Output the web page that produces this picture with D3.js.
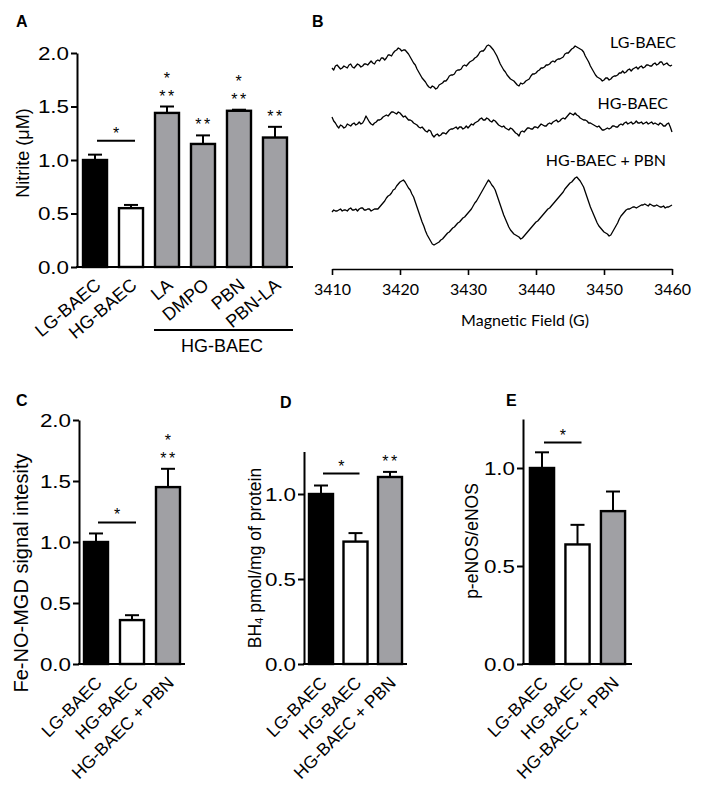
<!DOCTYPE html>
<html><head><meta charset="utf-8">
<script src="https://cdn.jsdelivr.net/npm/d3@7"></script>
<style>body{margin:0;background:#fff} svg{display:block}</style>
</head><body>
<svg id="fig" width="704" height="794"></svg>
<script>
// ---------------- DATA ----------------
// Panel A
const catsA = ["LG-BAEC", "HG-BAEC", "LA", "DMPO", "PBN", "PBN-LA"];
const valsA = [1.00, 0.55, 1.44, 1.15, 1.46, 1.21];
const errA  = [0.05, 0.03, 0.06, 0.08, 0.01, 0.10];
const sigA  = ["", "", "*|**", "**", "*|**", "**"];
const ticksA = [0, 0.5, 1.0, 1.5, 2.0];
// Panels C, D, E
const cats3 = ["LG-BAEC", "HG-BAEC", "HG-BAEC + PBN"];
const valsC = [1.00, 0.36, 1.45];
const errC  = [0.07, 0.04, 0.15];
const sigC  = ["", "", "*|**"];
const ticksC = [0, 0.5, 1.0, 1.5, 2.0];
const valsD = [1.00, 0.72, 1.10];
const errD  = [0.05, 0.05, 0.03];
const sigD  = ["", "", "**"];
const ticksD = [0, 0.5, 1.0];
const valsE = [1.00, 0.61, 0.78];
const errE  = [0.08, 0.10, 0.10];
const sigE  = ["", "", ""];
const ticksE = [0, 0.5, 1.0];
// Panel B: EPR spectra (arbitrary units, 0.25 G steps from 3410 to 3460 G)
const ticksB = [3410, 3420, 3430, 3440, 3450, 3460];
const traceNames = ["LG-BAEC", "HG-BAEC", "HG-BAEC + PBN"];
const lgB = [
  0,-2,2,3,1,-1,0,2,1,0,3,4,1,0,2,4,3,1,2,4,
  4,3,5,7,5,4,7,8,7,10,10,8,10,13,13,12,15,17,18,20,
  19,17,18,18,16,14,11,8,5,3,-1,-4,-7,-10,-12,-14,-17,-19,-20,-18,
  -19,-21,-20,-17,-16,-15,-13,-13,-11,-8,-7,-7,-6,-3,-2,-2,-1,2,3,2,
  4,6,7,8,10,11,13,16,17,17,19,22,23,22,20,18,15,12,8,4,
  1,-2,-4,-7,-9,-11,-12,-13,-15,-17,-18,-15,-16,-15,-13,-12,-11,-8,-6,-6,
  -5,-3,-2,0,0,1,3,3,4,6,7,6,8,9,9,10,11,14,15,15,
  17,19,20,22,21,20,19,18,16,12,9,6,2,-1,-4,-7,-9,-10,-11,-13,
  -12,-10,-10,-12,-11,-9,-8,-8,-7,-5,-5,-3,-5,-4,-2,-1,-3,-1,0,1,
  -1,1,2,0,1,3,3,2,2,4,5,3,4,6,6,3,4,5,3,2,
  3];
const hgB = [
  6,2,0,-3,-5,-2,-3,-5,-4,-1,-2,-3,-1,0,-2,-1,1,-1,0,3,
  7,4,1,-1,-2,0,1,3,3,4,6,7,8,7,9,11,11,10,9,11,
  10,8,6,7,5,3,3,2,0,-1,-2,-4,-5,-4,-6,-8,-9,-7,-8,-12,
  -14,-12,-11,-13,-12,-10,-10,-11,-9,-7,-6,-6,-5,-4,-6,-4,-4,-6,-5,-3,
  -5,-3,-1,-2,0,1,2,4,5,3,3,5,4,2,1,3,2,0,-2,-3,
  -4,-3,-5,-6,-7,-5,-6,-8,-10,-11,-13,-9,-8,-9,-7,-5,-5,-6,-6,-4,
  -4,-5,-3,-1,-2,-3,-3,-1,0,-1,1,2,3,1,2,4,5,4,6,8,
  10,9,8,10,8,7,5,4,3,3,2,0,0,-1,-2,-3,-4,-3,-5,-7,
  -7,-6,-5,-6,-5,-3,-3,-4,-4,-2,-1,-2,0,1,-1,0,1,-1,0,2,
  0,0,1,-1,0,1,-1,0,1,-1,0,-1,-2,0,-1,-3,-3,-1,0,-4,
  -9];
const pbnB = [
  -2,0,-1,-1,0,1,-1,0,0,-1,1,2,0,0,1,-1,1,2,2,0,
  0,1,1,-1,0,1,1,1,3,5,7,9,12,14,15,17,20,21,24,26,
  28,29,30,28,25,22,20,16,13,8,3,-2,-7,-12,-16,-21,-25,-28,-31,-34,
  -35,-34,-33,-32,-30,-29,-27,-25,-23,-22,-20,-18,-17,-15,-13,-12,-10,-8,-7,-5,
  -3,-1,1,4,7,9,12,15,18,21,24,27,30,28,25,23,20,15,10,5,
  0,-5,-9,-13,-17,-20,-22,-24,-25,-26,-27,-29,-28,-26,-24,-22,-20,-18,-16,-14,
  -12,-11,-9,-7,-5,-3,-1,1,2,4,6,8,10,12,14,16,18,21,23,25,
  27,28,30,32,33,31,29,26,23,18,13,8,3,-1,-5,-9,-13,-16,-18,-20,
  -22,-23,-24,-26,-25,-22,-19,-16,-13,-9,-6,-4,-2,0,1,1,2,3,3,2,
  3,4,5,5,6,5,4,6,5,4,4,5,4,3,3,4,2,3,3,4,
  5];

// ---------------- DRAWING ----------------
const svg = d3.select("#fig");
const AR = "'Liberation Sans', Arial, Helvetica, sans-serif";
const CAL = "Lato, 'Open Sans', sans-serif";
const GRAY = "#a0a0a4";
const SX = 1.28; // horizontal stretch of tick labels in the original

function panelLabel(t, x, y) {
  svg.append("text").attr("x", x).attr("y", y).text(t)
    .attr("font-family", AR).attr("font-weight", "bold").attr("font-size", 16);
}

function barPanel(o) {
  const g = svg.append("g");
  const x = d3.scaleBand().domain(o.cats).range([o.x0, o.x1]).paddingInner(o.pi).paddingOuter(o.po);
  const y = d3.scaleLinear().domain([0, o.ymax]).range([o.y0, o.ytop]);
  const bw = x.bandwidth();
  const cx = i => x(o.cats[i]) + bw / 2;

  // error bars (upper only)
  const eb = g.selectAll("g.eb").data(o.vals).join("g");
  eb.append("line").attr("x1", (d, i) => cx(i)).attr("x2", (d, i) => cx(i))
    .attr("y1", d => y(d)).attr("y2", (d, i) => y(d + o.errs[i]))
    .attr("stroke", "#000").attr("stroke-width", 2);
  eb.append("line").attr("x1", (d, i) => cx(i) - 7).attr("x2", (d, i) => cx(i) + 7)
    .attr("y1", (d, i) => y(d + o.errs[i])).attr("y2", (d, i) => y(d + o.errs[i]))
    .attr("stroke", "#000").attr("stroke-width", 2);

  // bars
  g.selectAll("rect.bar").data(o.vals).join("rect").attr("class", "bar")
    .attr("x", (d, i) => x(o.cats[i])).attr("width", bw)
    .attr("y", d => y(d)).attr("height", d => o.y0 - y(d))
    .attr("fill", (d, i) => i === 0 ? "#000" : i === 1 ? "#fff" : GRAY)
    .attr("stroke", "#000").attr("stroke-width", 2.4);

  // y axis
  const ax = g.append("g").attr("transform", `translate(${o.x0},0)`)
    .call(d3.axisLeft(y).tickValues(o.ticks).tickFormat(d3.format(".1f")).tickSize(6).tickSizeOuter(0));
  ax.select(".domain").attr("stroke-width", 2).attr("stroke", "#000");
  ax.selectAll(".tick line").attr("stroke-width", 2).attr("stroke", "#000");
  ax.selectAll(".tick text").attr("font-family", AR).attr("font-size", 17.5).attr("fill", "#000")
    .attr("transform", `scale(${SX},1)`).attr("x", -8 / SX).attr("dy", "0.36em");

  // x axis line
  g.append("line").attr("x1", o.x0 - 1).attr("x2", o.x1).attr("y1", o.y0).attr("y2", o.y0)
    .attr("stroke", "#000").attr("stroke-width", 2);

  // category labels (rotated)
  g.selectAll("text.cat").data(o.cats).join("text").attr("class", "cat")
    .attr("transform", (d, i) => `translate(${cx(i) + 7},${o.y0 + 20}) rotate(${o.rot})`)
    .attr("text-anchor", "end").attr("font-family", AR).attr("font-size", o.csize).text(d => d);

  // significance over bars
  o.sig.forEach((s, i) => {
    if (!s) return;
    const lines = s.split("|");
    const top = y(o.vals[i] + o.errs[i]);
    const n = lines.length;
    lines.forEach((l, k) => {
      g.append("text").attr("text-anchor", "middle").attr("font-family", AR)
        .attr("font-size", 16).attr("letter-spacing", 2.5)
        .attr("x", cx(i) + 1).attr("y", top - 14 - (n - 1 - k) * 18 + 9).text(l);
    });
  });

  // bracket LG vs HG
  const by = y(o.bracket);
  g.append("line").attr("x1", cx(0) + 2).attr("x2", cx(1) + 4).attr("y1", by).attr("y2", by)
    .attr("stroke", "#000").attr("stroke-width", 2);
  g.append("text").attr("x", (cx(0) + cx(1)) / 2 + 3).attr("y", by - 11 + 9)
    .attr("text-anchor", "middle").attr("font-family", AR).attr("font-size", 16).text("*");

  // y title
  const yt = g.append("text").attr("transform", `translate(${o.tx},${o.ty}) rotate(-90)`)
    .attr("text-anchor", "middle").attr("dominant-baseline", "middle")
    .attr("font-family", AR).attr("font-size", o.tsize);
  if (o.titleParts) {
    o.titleParts.forEach(p => {
      const ts = yt.append("tspan").text(p.t);
      if (p.sub) ts.attr("font-size", o.tsize * 0.65).attr("dy", 4);
      if (p.after) ts.attr("dy", -4);
    });
  } else yt.text(o.title);
  return { x, y, g, cx };
}

// Panel A
panelLabel("A", 16, 27);
const pA = barPanel({
  cats: catsA, vals: valsA, errs: errA, sig: sigA, ticks: ticksA,
  x0: 77, x1: 293, y0: 267, ytop: 53, ymax: 2.0, pi: 0.333, po: 0.167,
  bracket: 1.18, tx: 24, ty: 153, tsize: 18, title: "Nitrite (\u03bcM)",
  rot: -40, csize: 18
});
const gx1 = pA.x("LA") - 1;
svg.append("line").attr("x1", gx1).attr("x2", 293).attr("y1", 330).attr("y2", 330)
  .attr("stroke", "#000").attr("stroke-width", 2);
svg.append("text").attr("x", 222).attr("y", 352).attr("text-anchor", "middle")
  .attr("font-family", AR).attr("font-size", 18).text("HG-BAEC");

// Panel C
panelLabel("C", 16, 406);
barPanel({
  cats: cats3, vals: valsC, errs: errC, sig: sigC, ticks: ticksC,
  x0: 79, x1: 185, y0: 664, ytop: 420, ymax: 2.0, pi: 0.333, po: 0.139,
  bracket: 1.16, tx: 23, ty: 573, tsize: 20, title: "Fe-NO-MGD signal intesity",
  rot: -45, csize: 17.5
});

// Panel D
panelLabel("D", 280, 408);
barPanel({
  cats: cats3, vals: valsD, errs: errD, sig: sigD, ticks: ticksD,
  x0: 304, x1: 407, y0: 664, ytop: 451.5, ymax: 1.25, pi: 0.304, po: 0.145,
  bracket: 1.12, tx: 256, ty: 558, tsize: 17.5,
  titleParts: [{ t: "BH" }, { t: "4", sub: true }, { t: " pmol/mg of protein", after: true }],
  rot: -45, csize: 17.5
});

// Panel E
panelLabel("E", 506, 406);
barPanel({
  cats: cats3, vals: valsE, errs: errE, sig: sigE, ticks: ticksE,
  x0: 523, x1: 632, y0: 664, ytop: 419, ymax: 1.25, pi: 0.32, po: 0.195,
  bracket: 1.13, tx: 473, ty: 541, tsize: 17.5, title: "p-eNOS/eNOS",
  rot: -45, csize: 17.5
});

// Panel B
panelLabel("B", 312, 27);
const fieldB = d3.range(0, lgB.length).map(i => 3410 + i * 0.25);
const xB = d3.scaleLinear().domain([3410, 3460]).range([332, 672]);
const yB = d3.scaleLinear().domain([-50, 50]).range([50, -50]);
const lineB = d3.line().x((d, i) => xB(fieldB[i])).y(d => yB(d));
const traces = [
  { name: traceNames[0], vals: lgB, base: 68, lx: 676, ly: 48 },
  { name: traceNames[1], vals: hgB, base: 123, lx: 668, ly: 109 },
  { name: traceNames[2], vals: pbnB, base: 210, lx: 666, ly: 166 }
];
const gB = svg.append("g");
traces.forEach(t => {
  gB.append("path").attr("d", lineB(t.vals)).attr("transform", `translate(0,${t.base})`)
    .attr("fill", "none").attr("stroke", "#000").attr("stroke-width", 1.3).attr("stroke-linejoin", "round");
  gB.append("text").attr("x", t.lx).attr("y", t.ly).attr("text-anchor", "end")
    .attr("font-family", CAL).attr("font-size", 16).text(t.name);
});
const axB = gB.append("g").attr("transform", "translate(0,269)")
  .call(d3.axisBottom(xB).tickValues(ticksB).tickFormat(d3.format("d")).tickSize(6).tickSizeOuter(0));
axB.select(".domain").attr("stroke-width", 1.6).attr("stroke", "#000");
axB.selectAll(".tick line").attr("stroke-width", 1.6).attr("stroke", "#000");
axB.selectAll(".tick text").attr("font-family", CAL).attr("font-size", 16).attr("fill", "#000").attr("y", 15);
gB.append("text").attr("x", 525).attr("y", 326).attr("text-anchor", "middle")
  .attr("font-family", CAL).attr("font-size", 16).text("Magnetic Field (G)");
</script>
</body></html>
